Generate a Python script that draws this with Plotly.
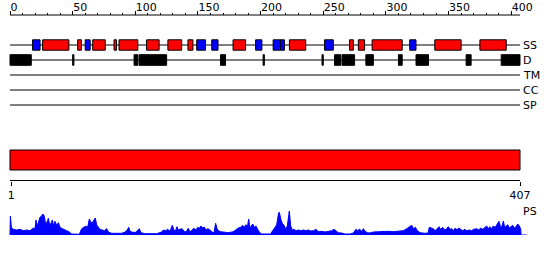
import plotly.graph_objects as go

# ---------------- data ----------------
SEQ_LEN = 407
TRACKS = ["SS", "D", "TM", "CC", "SP"]

HELIX_START = [27, 55, 67, 84, 88, 110, 127, 143, 179, 224, 272, 279, 290, 340, 376]
HELIX_END   = [47, 57, 76, 85, 102, 119, 137, 146, 188, 236, 274, 283, 313, 360, 396]

STRAND_START = [19, 61, 150, 162, 197, 211, 217, 252, 320]
STRAND_END   = [24, 64, 156, 166, 201, 216, 219, 258, 324]

DIS_START = [1, 51, 100, 104, 169, 203, 250, 260, 266, 285, 311, 325, 365, 393]
DIS_END   = [17, 51, 102, 125, 172, 203, 250, 264, 275, 290, 313, 334, 368, 407]

DOMAIN_START = [1]
DOMAIN_END = [407]

TOP_TICKS = [0, 50, 100, 150, 200, 250, 300, 350, 400]
TOP_MINOR = [v for v in range(0, 401, 10)]
BOTTOM_TICKS = [1, 407]

PS_POS = [0, 0.3, 1.1, 2.7, 5.3, 8, 10.6, 13.3, 16, 17.8, 20, 20.7, 21.8, 22.9, 23.9, 25.3, 26.1, 27.1,
          28.2, 29.3, 30.6, 31.7, 32.7, 33.8, 34.8, 35.9, 37.2, 38.6, 39.9, 41.2, 43.1, 45.2, 47.3,
          49.2, 51.9, 55.3, 57.2, 59.1, 60.7, 62, 63.3, 64.4, 65.4, 66.5, 68.1, 69.2, 70.5, 71.8,
          73.7, 75.3, 77.2, 78.5, 81.1, 85.1, 89.1, 91.8, 93.6, 94.7, 95.8, 97.9, 100.5, 102.1,
          103.2, 104.5, 107.7, 111.7, 117, 121, 122.4, 124.2, 125.8, 127.7, 129.5, 130.6, 131.9,
          133.3, 134.3, 135.7, 137.3, 138.9, 140.5, 142.3, 143.6, 145.2, 146.8, 148.4, 149.8, 151,
          152.4, 153.8, 155, 156.4, 158, 159.6, 161.2, 162.8, 164.1, 165.4, 167.6, 170.2, 174.2,
          178.2, 180.4, 182.2, 184.1, 185.7, 187, 188.3, 189.4, 190.5, 191.5, 192.9, 193.7, 195,
          196.3, 197.6, 198.9, 200.8, 204.8, 208, 209.6, 211.2, 212.8, 214.4, 214.9, 216.3, 217.3,
          218.7, 220, 221.3, 222.1, 222.9, 224, 225.3, 226.6, 228.2, 230.1, 232, 234.1, 236.2,
          238.1, 240, 242.1, 244.2, 246.1, 248.7, 251.4, 254, 256.7, 258.6, 260.2, 262, 264.7,
          267.3, 271.3, 274, 276.1, 277.5, 278.8, 280.7, 282, 283.3, 285.2, 287.3, 290, 294, 298,
          302, 305.9, 309.9, 313.9, 316.6, 318.7, 320.6, 321.9, 323.5, 325.1, 327.2, 331.2, 333.6,
          334.6, 336.2, 337.8, 339.4, 341, 342.4, 343.7, 345.3, 346.9, 348.5, 349.8, 351.1, 352.5,
          353.8, 355.4, 356.7, 358.1, 359.7, 361.3, 362.9, 364.5, 366.6, 368.4, 370, 372.4, 374,
          375.6, 377.2, 378.8, 380.4, 381.7, 383, 384.4, 385.7, 387.3, 388.9, 390.2, 391.3, 392.4,
          393.7, 394.8, 396.1, 397.2, 398.5, 399.8, 401.2, 402.5, 403.8, 405.2, 406.5, 407.6, 407.8]
PS_VAL = [0.3, 19, 7.7, 5.7, 5, 5.7, 4.3, 5, 4.3, 6.3, 7, 15, 9, 13.3, 17.7, 19, 21, 19.7,
          13.3, 11.7, 16.7, 10, 11.7, 15, 9, 13.7, 9.7, 12.3, 7.7, 6.7, 5.7, 4.3, 3,
          1, 0.7, 0.7, 6.3, 7.7, 9, 7.7, 16, 13.3, 11.7, 14, 17, 10, 7.7, 5.7,
          5, 4.3, 6.3, 3, 1.7, 1.7, 1.7, 3, 5, 7.7, 3.7, 2.7, 2.7, 5,
          6.3, 2.3, 1.3, 1.3, 1.3, 3, 5, 4.3, 5.7, 3.7, 9.7, 5.7, 3.7,
          8.3, 5, 5.7, 6.3, 3.7, 3, 6.7, 3, 5, 6.7, 5, 7.7, 6.7,
          9, 7, 8, 5, 6.3, 5, 3, 2.3, 11.7, 5.7, 3.3, 3, 2.3,
          3.3, 5.7, 7, 7.7, 9.7, 7.7, 10.3, 7.7, 16, 7, 9, 11, 7.7,
          9, 5.7, 3, 1, 0.7, 1, 4.3, 7.7, 10, 22.3, 22.7, 15, 11.7,
          9.7, 5.7, 9, 15, 24, 9, 5, 5.7, 4.3, 5, 4.3, 5, 4.3,
          5, 4, 4.3, 5.7, 3.3, 3.7, 3, 3.7, 4.3, 5.7, 3.7, 2.3, 2,
          1, 1, 2, 5.7, 4.3, 6, 3.7, 6.3, 3.7, 2.3, 2, 3, 3.3, 3.3,
          3.7, 3.3, 4, 4.3, 6.3, 7.7, 9.7, 6.3, 7.7, 4.3, 2.3, 1.7, 2,
          7.7, 7, 6.3, 4.3, 7, 8.3, 5.7, 7.7, 5, 6.3, 8.3, 5.7, 6.3,
          4.3, 7, 5, 7, 5.7, 4.3, 5.7, 4.3, 5, 4.3, 5.7, 6.3, 5,
          7, 5.7, 7, 9, 6.3, 8.3, 6.3, 9, 7.7, 11, 13.7, 9, 7.7,
          14, 7.7, 9, 10.3, 7, 8.3, 9.7, 7, 8.3, 11, 9, 5.7, 0.3]
PS_BASELINE = [0, 412.3]

# ---------------- layout constants ----------------
W, H = 550, 260
X0_PX, X1_PX = 10, 520
PPR = (X1_PX - X0_PX) / SEQ_LEN
TRACK_Y = {"SS": 45, "D": 60, "TM": 75, "CC": 90, "SP": 105}
DOMAIN_Y = 160
TOP_AXIS_Y = 15
BOTTOM_AXIS_Y = 180.5
FONT = "DejaVu Sans"
FS = 11
BLACK = "#000000"

fig = go.Figure()

def feature_bar(starts, ends, ypos, height, color):
    return go.Bar(
        orientation="h",
        base=[s - 1 for s in starts],
        x=[e - s + 1 for s, e in zip(starts, ends)],
        y=[ypos] * len(starts),
        width=height,
        marker=dict(color=color, line=dict(color=BLACK, width=1)),
        hoverinfo="skip", showlegend=False,
    )

fig.add_trace(feature_bar(HELIX_START, HELIX_END, TRACK_Y["SS"], 10.4, "#ff0000"))
fig.add_trace(feature_bar(STRAND_START, STRAND_END, TRACK_Y["SS"], 10.4, "#0000ff"))
fig.add_trace(feature_bar(DIS_START, DIS_END, TRACK_Y["D"], 10.6, BLACK))
fig.add_trace(feature_bar(DOMAIN_START, DOMAIN_END, DOMAIN_Y, 20, "#ff0000"))

# PS profile
fig.add_trace(go.Scatter(x=PS_BASELINE, y=[0, 0], mode="lines", line=dict(color="#0000ff", width=1),
                         yaxis="y2", hoverinfo="skip", showlegend=False))
fig.add_trace(go.Scatter(x=PS_POS, y=PS_VAL, mode="lines", fill="tozeroy",
                         line=dict(color="#0000ff", width=1), fillcolor="#0000ff",
                         yaxis="y2", hoverinfo="skip", showlegend=False))

# invisible carriers for the overlaid tick axes
fig.add_trace(go.Scatter(x=[0], y=[TOP_AXIS_Y], xaxis="x2", mode="markers",
                         marker=dict(opacity=0), hoverinfo="skip", showlegend=False))
fig.add_trace(go.Scatter(x=[1], y=[BOTTOM_AXIS_Y], xaxis="x3", mode="markers",
                         marker=dict(opacity=0), hoverinfo="skip", showlegend=False))

# track lines
for name in TRACKS:
    fig.add_shape(type="line", xref="x", yref="y", x0=0, x1=SEQ_LEN,
                  y0=TRACK_Y[name], y1=TRACK_Y[name], layer="below",
                  line=dict(color=BLACK, width=1))
    fig.add_annotation(text=name, xref="paper", yref="y", x=(X1_PX + 1) / W, y=TRACK_Y[name],
                       xanchor="left", yanchor="middle", showarrow=False,
                       font=dict(family=FONT, size=FS, color=BLACK))

# axis lines (ruler spans the whole sequence)
fig.add_shape(type="line", xref="x", yref="y", x0=0, x1=SEQ_LEN,
              y0=TOP_AXIS_Y, y1=TOP_AXIS_Y, line=dict(color=BLACK, width=1))
fig.add_shape(type="line", xref="x", yref="y", x0=0, x1=SEQ_LEN,
              y0=BOTTOM_AXIS_Y, y1=BOTTOM_AXIS_Y, line=dict(color=BLACK, width=1))

fig.add_annotation(text="PS", xref="paper", yref="paper", x=(X1_PX + 1) / W, y=1 - 211 / H,
                   xanchor="left", yanchor="middle", showarrow=False,
                   font=dict(family=FONT, size=FS, color=BLACK))

XRANGE = [-X0_PX / PPR, (W - X0_PX) / PPR]

fig.update_layout(
    width=W, height=H,
    margin=dict(l=0, r=0, t=0, b=0),
    paper_bgcolor="white", plot_bgcolor="white",
    barmode="overlay",
    showlegend=False,
    font=dict(family=FONT, size=FS, color=BLACK),
    xaxis=dict(domain=[0, 1], range=XRANGE, visible=False, fixedrange=True),
    yaxis=dict(domain=[0, 1], range=[H, 0], visible=False, fixedrange=True),
    yaxis2=dict(domain=[(H - 235) / H, (H - 211) / H], range=[0, 24], anchor="x", visible=False),
    xaxis2=dict(overlaying="x", matches="x", anchor="free", position=1 - TOP_AXIS_Y / H, side="top",
                showline=False, ticks="outside", ticklen=4, tickcolor=BLACK, tickwidth=1,
                tickvals=TOP_TICKS, ticklabelposition="outside right",
                minor=dict(tickvals=TOP_MINOR, ticks="outside", ticklen=2, tickcolor=BLACK),
                showgrid=False, zeroline=False, automargin=False,
                tickfont=dict(family=FONT, size=FS, color=BLACK)),
    xaxis3=dict(overlaying="x", matches="x", anchor="free", position=1 - BOTTOM_AXIS_Y / H, side="bottom",
                showline=False, ticks="outside", ticklen=4, tickcolor=BLACK, tickwidth=1,
                tickvals=BOTTOM_TICKS, showgrid=False, zeroline=False, automargin=False,
                tickfont=dict(family=FONT, size=FS, color=BLACK)),
)

fig.write_html("out.html")
